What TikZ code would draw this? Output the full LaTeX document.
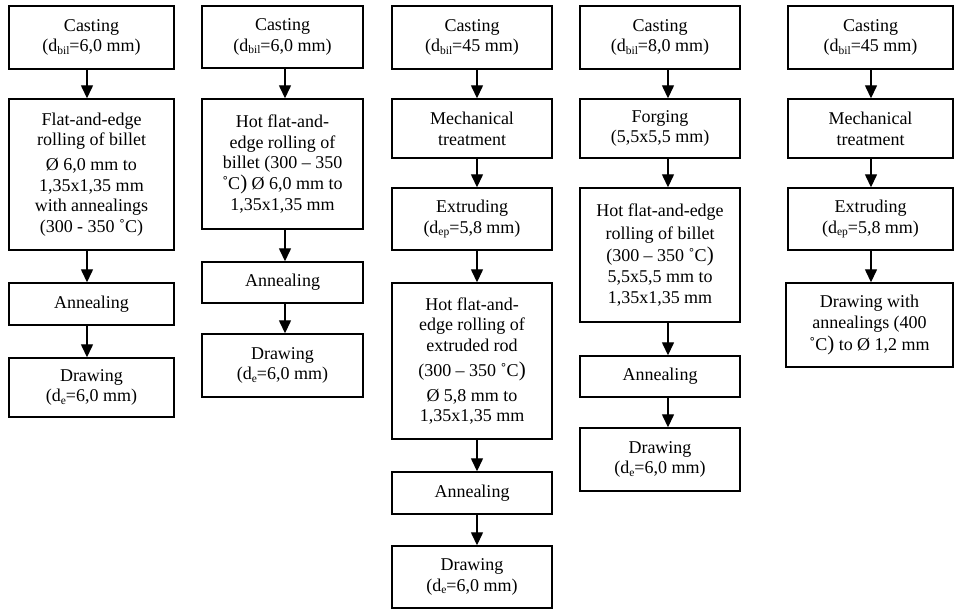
\documentclass[tikz,border=0pt]{standalone}
\usepackage{fontspec}
\setmainfont{Liberation Serif}
\usetikzlibrary{arrows.meta}
\newcommand\sbs[1]{\raisebox{-0.3ex}{\fontsize{11.5}{12}\selectfont #1}}
\newcommand\bp{{\fontsize{21}{21}\selectfont )}}
\begin{document}
\begin{tikzpicture}[x=1pt,y=-1pt,
  box/.style={draw, line width=1.4pt, align=center, inner sep=0pt,
    font=\fontsize{18}{20.7}\selectfont},
  arr/.style={line width=1.4pt, -{Triangle[width=12pt,length=13pt]}}]
\useasboundingbox[fill=white] (0,0) rectangle (954,609);

% Column 1
\node[box, minimum width=165pt, minimum height=63pt] (c1a) at (91.5,37.5) {Casting\\(d\sbs{bil}=6,0 mm)};
\node[box, minimum width=165pt, minimum height=151pt] (c1b) at (91.5,174.5) {Flat-and-edge\\rolling of billet\\[4pt]Ø 6,0 mm to\\1,35x1,35 mm\\with annealings\\(300 - 350 ˚C)};
\node[box, minimum width=165pt, minimum height=42pt] (c1c) at (91.5,304) {Annealing};
\node[box, minimum width=165pt, minimum height=59pt] (c1d) at (91.5,387.5) {Drawing\\(d\sbs{e}=6,0 mm)};
\coordinate (x1) at (87,0);
\draw[arr] (c1a.south -| x1) -- (c1b.north -| x1);
\draw[arr] (c1b.south -| x1) -- (c1c.north -| x1);
\draw[arr] (c1c.south -| x1) -- (c1d.north -| x1);

% Column 2
\node[box, minimum width=161pt, minimum height=62pt] (c2a) at (282.5,37) {Casting\\(d\sbs{bil}=6,0 mm)};
\node[box, minimum width=161pt, minimum height=130pt] (c2b) at (282.5,164) {Hot flat-and-\\edge rolling of\\billet (300 – 350\\˚C\bp{} Ø 6,0 mm to\\1,35x1,35 mm};
\node[box, minimum width=161pt, minimum height=41pt] (c2c) at (282.5,282.5) {Annealing};
\node[box, minimum width=161pt, minimum height=63pt] (c2d) at (282.5,365.5) {Drawing\\(d\sbs{e}=6,0 mm)};
\coordinate (x2) at (285,0);
\draw[arr] (c2a.south -| x2) -- (c2b.north -| x2);
\draw[arr] (c2b.south -| x2) -- (c2c.north -| x2);
\draw[arr] (c2c.south -| x2) -- (c2d.north -| x2);

% Column 3
\node[box, minimum width=160pt, minimum height=63pt] (c3a) at (472,37.5) {Casting\\(d\sbs{bil}=45 mm)};
\node[box, minimum width=160pt, minimum height=59pt] (c3b) at (472,128.5) {Mechanical\\treatment};
\node[box, minimum width=160pt, minimum height=62pt] (c3c) at (472,219) {Extruding\\(d\sbs{ep}=5,8 mm)};
\node[box, minimum width=160pt, minimum height=156pt] (c3d) at (472,361) {Hot flat-and-\\edge rolling of\\extruded rod\\[4pt](300 – 350 ˚C\bp\\[4pt]Ø 5,8 mm to\\1,35x1,35 mm};
\node[box, minimum width=160pt, minimum height=42pt] (c3e) at (472,493) {Annealing};
\node[box, minimum width=160pt, minimum height=62pt] (c3f) at (472,577) {Drawing\\(d\sbs{e}=6,0 mm)};
\coordinate (x3) at (477,0);
\draw[arr] (c3a.south -| x3) -- (c3b.north -| x3);
\draw[arr] (c3b.south -| x3) -- (c3c.north -| x3);
\draw[arr] (c3c.south -| x3) -- (c3d.north -| x3);
\draw[arr] (c3d.south -| x3) -- (c3e.north -| x3);
\draw[arr] (c3e.south -| x3) -- (c3f.north -| x3);

% Column 4
\node[box, minimum width=160pt, minimum height=63pt] (c4a) at (660,37.5) {Casting\\(d\sbs{bil}=8,0 mm)};
\node[box, minimum width=160pt, minimum height=59pt] (c4b) at (660,128.5) {Forging\\(5,5x5,5 mm)};
\node[box, minimum width=160pt, minimum height=134pt] (c4c) at (660,255) {Hot flat-and-edge\\[2pt]rolling of billet\\[2pt](300 – 350 ˚C\bp\\5,5x5,5 mm to\\1,35x1,35 mm};
\node[box, minimum width=160pt, minimum height=41pt] (c4d) at (660,376.5) {Annealing};
\node[box, minimum width=160pt, minimum height=63pt] (c4e) at (660,459.5) {Drawing\\(d\sbs{e}=6,0 mm)};
\coordinate (x4) at (668,0);
\draw[arr] (c4a.south -| x4) -- (c4b.north -| x4);
\draw[arr] (c4b.south -| x4) -- (c4c.north -| x4);
\draw[arr] (c4c.south -| x4) -- (c4d.north -| x4);
\draw[arr] (c4d.south -| x4) -- (c4e.north -| x4);

% Column 5
\node[box, minimum width=165pt, minimum height=63pt] (c5a) at (870.5,37.5) {Casting\\(d\sbs{bil}=45 mm)};
\node[box, minimum width=165pt, minimum height=59pt] (c5b) at (870.5,128.5) {Mechanical\\treatment};
\node[box, minimum width=165pt, minimum height=62pt] (c5c) at (870.5,219) {Extruding\\(d\sbs{ep}=5,8 mm)};
\node[box, minimum width=167pt, minimum height=84pt] (c5d) at (869.5,325) {Drawing with\\annealings (400\\[2pt]˚C\bp{} to Ø 1,2 mm};
\coordinate (x5) at (871,0);
\draw[arr] (c5a.south -| x5) -- (c5b.north -| x5);
\draw[arr] (c5b.south -| x5) -- (c5c.north -| x5);
\draw[arr] (c5c.south -| x5) -- (c5d.north -| x5);
\end{tikzpicture}
\end{document}
